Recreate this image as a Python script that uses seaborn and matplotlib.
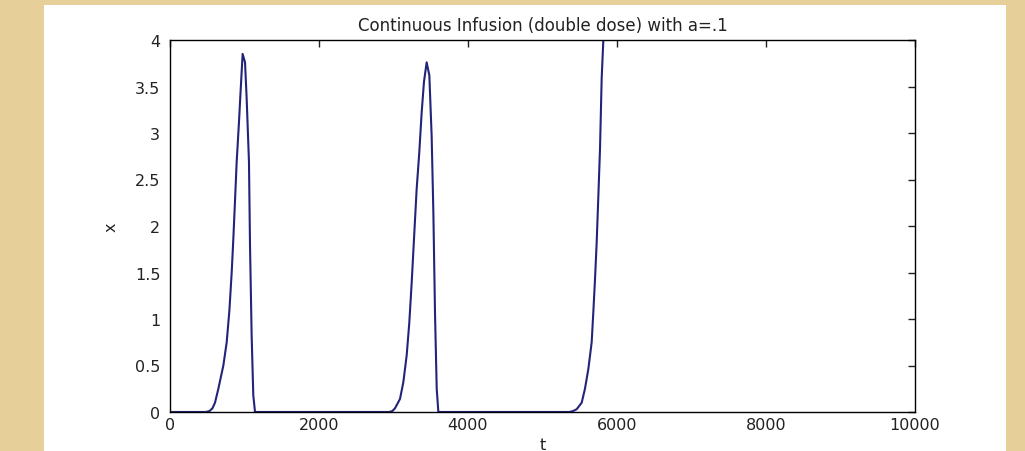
import matplotlib
matplotlib.use("Agg")
import matplotlib.pyplot as plt
from matplotlib.patches import Rectangle
import numpy as np
import pandas as pd
import seaborn as sns

# values (t, x)
t_vals = [0, 480, 530, 570, 604, 649, 716, 761, 797, 828, 850, 872, 895, 926, 949, 975,
          1007, 1029, 1060, 1074, 1096, 1118, 1141,
          2940, 2985, 3020, 3087, 3132, 3177, 3212, 3244, 3275, 3311, 3346, 3378, 3409, 3445,
          3481, 3512, 3535, 3557, 3580, 3602,
          5360, 5410, 5459, 5526, 5570, 5615, 5660, 5682, 5705, 5727, 5750, 5772, 5794, 5817, 5850]
x_vals = [0, 0, 0.01, 0.04, 0.10, 0.25, 0.50, 0.75, 1.09, 1.50, 1.86, 2.26, 2.69, 3.12, 3.47, 3.85,
          3.76, 3.37, 2.69, 1.79, 0.82, 0.18, 0,
          0, 0.01, 0.04, 0.14, 0.32, 0.61, 0.96, 1.39, 1.86, 2.40, 2.79, 3.22, 3.55, 3.76,
          3.62, 2.97, 2.15, 1.07, 0.25, 0,
          0, 0.01, 0.03, 0.10, 0.25, 0.46, 0.75, 1.07, 1.43, 1.82, 2.33, 2.83, 3.58, 4.01, 4.6]

x_ticks = [0, 2000, 4000, 6000, 8000, 10000]
y_ticks = [0, 0.5, 1, 1.5, 2, 2.5, 3, 3.5, 4]
y_tick_labels = ["0", "0.5", "1", "1.5", "2", "2.5", "3", "3.5", "4"]

sns.set_theme(style="white")
plt.rcParams["font.family"] = ["DejaVu Sans"]

df = pd.DataFrame({"t": t_vals, "x": x_vals})

fig = plt.figure(figsize=(10.25, 4.52), dpi=100, facecolor="#e6cf98")
# white "slide" panel behind the plot
fig.patches.append(Rectangle((44 / 1025, 0), (1006 - 44) / 1025, 446 / 452,
                             transform=fig.transFigure, facecolor="white",
                             edgecolor="none", zorder=-10))

ax = fig.add_axes([170 / 1025, 39 / 452, 745 / 1025, 372 / 452])
ax.set_zorder(5)
ax.set_facecolor("white")

sns.lineplot(data=df, x="t", y="x", ax=ax, estimator=None, sort=False,
             color="#23237a", linewidth=1.5)

ax.set_xlim(0, 10000)
ax.set_ylim(0, 4)
ax.set_xticks(x_ticks)
ax.set_xticklabels([str(v) for v in x_ticks])
ax.set_yticks(y_ticks)
ax.set_yticklabels(y_tick_labels)

for side in ["top", "bottom", "left", "right"]:
    ax.spines[side].set_visible(True)
    ax.spines[side].set_color("black")
    ax.spines[side].set_linewidth(1.0)

ax.tick_params(direction="in", length=5, width=1, colors="#222222",
               top=True, right=True, labelsize=11.5, pad=3.5)
ax.tick_params(axis="y", pad=7)

ax.set_xlabel("t", fontsize=11.5, labelpad=4, color="#222222")
ax.set_ylabel("x", fontsize=11.5, labelpad=12, color="#222222")
ax.set_title("Continuous Infusion (double dose) with a=.1", fontsize=12, pad=7,
             color="#222222")

fig.savefig("out.png", dpi=100, facecolor=fig.get_facecolor())
